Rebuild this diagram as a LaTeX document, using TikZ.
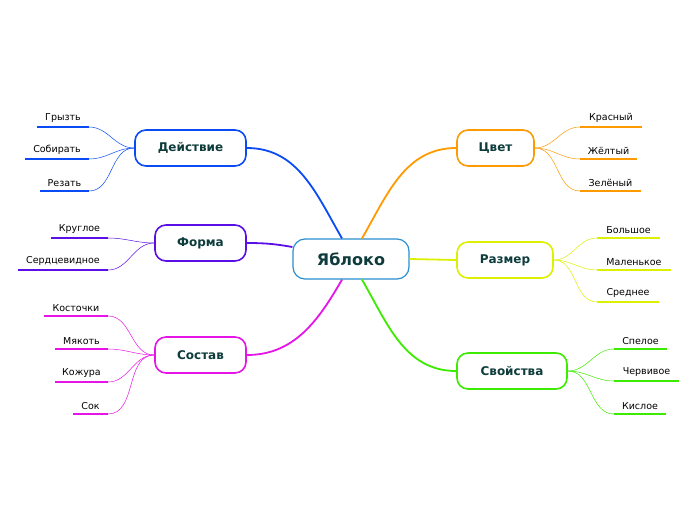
\documentclass[tikz,border=0pt]{standalone}
\usepackage{fontspec}
\setmainfont{DejaVu Sans}
\definecolor{cblue}{HTML}{0A4BF5}
\definecolor{cpurp}{HTML}{5A0FE6}
\definecolor{cmag}{HTML}{E614E6}
\definecolor{corg}{HTML}{FF9A00}
\definecolor{cyel}{HTML}{DCF000}
\definecolor{cgrn}{HTML}{3CEB00}
\definecolor{ctxt}{HTML}{0E3B3B}
\definecolor{ccen}{HTML}{2A8FD0}
\tikzset{
 br/.style={draw=#1,line width=1.6pt,rounded corners=11pt,minimum height=36pt,text=ctxt,font=\fontsize{12}{14}\selectfont\bfseries,fill=white},
 lf/.style={font=\fontsize{9.5}{11}\selectfont,text=black,anchor=south,inner sep=2pt,yshift=2pt},
 ll/.style={line width=2.6pt,draw=#1},
 thin/.style={draw=#1,line width=0.5pt},
 thick/.style={draw=#1,line width=1.8pt}
}
% \leafL{name}{color}{x1}{x2}{y}{text}
\newcommand{\leafline}[6]{%
 \coordinate (#1a) at (#3,#5); \coordinate (#1b) at (#4,#5);
 \draw[ll=#2] (#1a) -- (#1b);
 \node[lf] (#1t) at ($(#1a)!0.5!(#1b)$) {#6};}
\usetikzlibrary{calc}
\begin{document}
\begin{tikzpicture}[x=1pt,y=-1pt]
\useasboundingbox (0,0) rectangle (696,520);
\node[draw=ccen,line width=1.2pt,rounded corners=12pt,minimum width=116pt,minimum height=40pt,text=ctxt,font=\fontsize{16}{18}\selectfont\bfseries,fill=white] (c) at (351,259) {Яблоко};
\node[br=cblue,minimum width=111pt] (d) at (190.5,148) {Действие};
\node[br=cpurp,minimum width=91pt] (f) at (200.5,243) {Форма};
\node[br=cmag,minimum width=91pt] (s) at (200.5,355) {Состав};
\node[br=corg,minimum width=77pt] (z) at (495.5,148) {Цвет};
\node[br=cyel,minimum width=96pt] (r) at (505,260) {Размер};
\node[br=cgrn,minimum width=110pt] (p) at (512,371) {Свойства};
\begin{scope}[on background layer/.style={}]
\draw[thick=cblue] (d.east) to[out=0,in=120] ($(c.north)+(-9,0)$);
\draw[thick=cpurp] (f.east) to[out=0,in=170] ($(c.west)+(0,-12)$);
\draw[thick=cmag] (s.east) to[out=0,in=-120] ($(c.south)+(-9,0)$);
\draw[thick=corg] (z.west) to[out=180,in=60] ($(c.north)+(11,0)$);
\draw[thick=cyel] (r.west) -- (c.east);
\draw[thick=cgrn] (p.west) to[out=180,in=-60] ($(c.south)+(11,0)$);
\end{scope}
\leafline{d1}{cblue}{37}{89}{127}{Грызть}
\leafline{d2}{cblue}{25}{89}{159}{Собирать}
\leafline{d3}{cblue}{40}{89}{191}{Резать}
\leafline{f1}{cpurp}{51}{108}{238}{Круглое}
\leafline{f2}{cpurp}{18}{108}{270}{Сердцевидное}
\leafline{s1}{cmag}{44}{108}{316}{Косточки}
\leafline{s2}{cmag}{55}{108}{349}{Мякоть}
\leafline{s3}{cmag}{55}{108}{382}{Кожура}
\leafline{s4}{cmag}{73}{108}{414}{Сок}
\leafline{z1}{corg}{580}{642}{127}{Красный}
\leafline{z2}{corg}{580}{637}{159}{Жёлтый}
\leafline{z3}{corg}{580}{641}{191}{Зелёный}
\leafline{r1}{cyel}{597}{660}{238}{Большое}
\leafline{r2}{cyel}{597}{671}{270}{Маленькое}
\leafline{r3}{cyel}{597}{659}{302}{Среднее}
\leafline{p1}{cgrn}{614}{667}{349}{Спелое}
\leafline{p2}{cgrn}{614}{679}{381}{Червивое}
\leafline{p3}{cgrn}{614}{666}{414}{Кислое}
\foreach \i in {1,2,3} \draw[thin=cblue] (d.west) to[out=180,in=0] (d\i b);
\foreach \i in {1,2} \draw[thin=cpurp] (f.west) to[out=180,in=0] (f\i b);
\foreach \i in {1,2,3,4} \draw[thin=cmag] (s.west) to[out=180,in=0] (s\i b);
\foreach \i in {1,2,3} \draw[thin=corg] (z.east) to[out=0,in=180] (z\i a);
\foreach \i in {1,2,3} \draw[thin=cyel] (r.east) to[out=0,in=180] (r\i a);
\foreach \i in {1,2,3} \draw[thin=cgrn] (p.east) to[out=0,in=180] (p\i a);
\end{tikzpicture}
\end{document}
